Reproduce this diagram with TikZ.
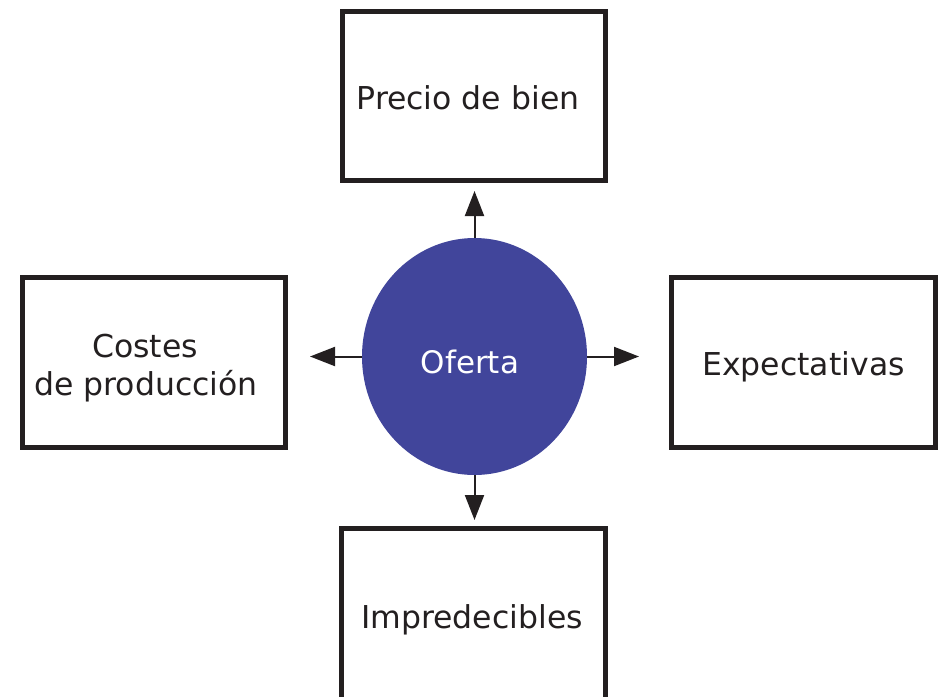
\documentclass[tikz,border=0pt]{standalone}
\usepackage{fontspec}
\setmainfont{DejaVu Sans}
\usetikzlibrary{shapes.geometric,arrows.meta}
\definecolor{ink}{RGB}{35,31,32}
\definecolor{ballblue}{RGB}{65,69,155}
\newcommand{\lowerby}[2]{\raisebox{-#1}[\height][\depth]{#2}}
\begin{document}
\begin{tikzpicture}[x=1pt,y=-1pt,
  box/.style={draw=ink,line width=4.5pt,inner sep=0pt,outer sep=0pt,
    minimum width=263pt,minimum height=169pt,text=ink,align=center,
    font=\fontsize{31.5}{38}\selectfont},
  ball/.style={ellipse,fill=ballblue,inner sep=0pt,outer sep=0pt,
    minimum width=225pt,minimum height=237pt,text=white,
    font=\fontsize{31}{38}\selectfont},
  arr/.style={draw=ink,line width=2pt,-{Triangle[length=25pt,width=19pt]}}]
\useasboundingbox (0,0) rectangle (941,696);
\node[box] (top) at (474,96) {\lowerby{2pt}{Precio de bien}\hspace*{12pt}};
\node[box,minimum height=170pt] (left) at (154,362.5) {\lowerby{6pt}{\begin{tabular}{@{}c@{}}Costes\hspace*{18pt}\\de producción\hspace*{16pt}\end{tabular}}};
\node[box,minimum width=264pt,minimum height=170pt] (right) at (803.5,362.5) {\lowerby{4pt}{Expectativas}};
\node[box,minimum width=264pt,minimum height=175pt] (bottom) at (473.5,616) {\lowerby{4pt}{Impredecibles}\hspace*{3pt}};
\node[ball] (c) at (474.5,356.5) {\lowerby{5pt}{Oferta}\hspace*{9pt}};
\draw[arr,shorten >=10.5pt] (c.north) -- (c.north |- top.south);
\draw[arr,shorten >=24.5pt] (c.west) -- (c.west -| left.east);
\draw[arr,shorten >=32.5pt] (c.east) -- (c.east -| right.west);
\draw[arr,shorten >=8.5pt] (c.south) -- (c.south |- bottom.north);
\end{tikzpicture}
\end{document}
